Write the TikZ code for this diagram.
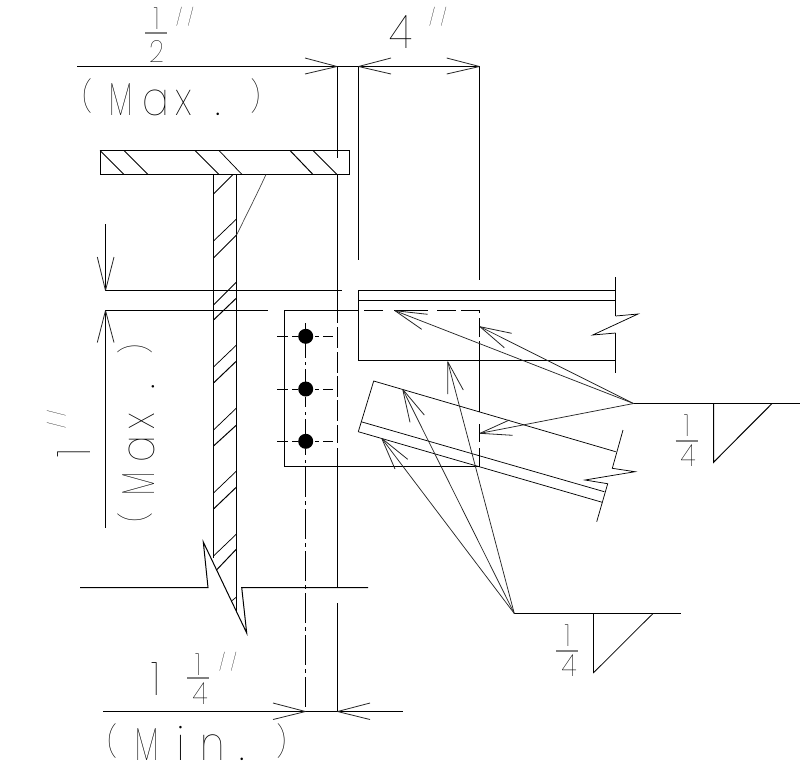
\documentclass[tikz,border=0pt]{standalone}
\usepackage{fontspec}
\newfontfamily\numf{Poppins Thin}
\newfontfamily\primef{Poppins Thin}[LetterSpace=30]
% one letter of a spaced label: slot width in px, horizontal scale, letter
\newcommand{\slot}[3]{\makebox[\dimexpr #1pt*3/4\relax][l]{\scalebox{#2}[1]{\fontsize{35pt}{35pt}\numf #3}}}
\newcommand{\paren}[2]{\makebox[\dimexpr #1pt*3/4\relax][l]{\raisebox{5.5pt}{\fontsize{23pt}{23pt}\numf #2}}}
\newcommand{\smallnum}[1]{\scalebox{.85}[1]{\fontsize{23pt}{23pt}\numf #1}}
\newcommand{\bignum}[1]{\scalebox{.85}[1]{\fontsize{35pt}{35pt}\numf #1}}
\newcommand{\primes}{\fontsize{13pt}{13pt}\primef //}
\newcommand{\maxlabel}{\paren{27}{(}\slot{33}{.62}{M}\slot{33}{.85}{a}\slot{40}{.85}{x}\slot{35}{1}{.}\paren{8}{)}}
\newcommand{\minlabel}{\paren{28}{(}\slot{41}{.62}{M}\slot{24}{1}{i}\slot{39}{.85}{n}\slot{37}{1}{.}\paren{8}{)}}
\tikzset{
  main/.style={black,line width=.75pt},
  thin line/.style={black,line width=.55pt},
  lead/.style={black!85,line width=.55pt},
  hid/.style={black,line width=.75pt},
  barb/.style={black!85,line width=.6pt},
  bar/.style={black!50,line width=.8pt},
  lbl/.style={anchor=base,inner sep=0pt,outer sep=0pt,text=black},
  lblw/.style={anchor=base west,inner sep=0pt,outer sep=0pt,text=black},
  centre line/.style={black,line width=.75pt,dash pattern=on 22.5pt off 3pt on 3pt off 3pt}
}
\newcommand{\tipbarbs}[3]{\draw[barb] (#1) -- (#2) (#1) -- (#3);}
\begin{document}
\begin{tikzpicture}[x=.75pt,y=-.75pt]
\useasboundingbox (0,0) rectangle (809,769);
\fill[white] (0,0) rectangle (809,769);
% top dimensions
\draw[main] (77,66.5) -- (479.5,66.5);
\draw[main] (337.5,66.5) -- (337.5,158);
\draw[main] (358.5,66.5) -- (358.5,260);
\draw[main] (479.5,66.5) -- (479.5,280);
\tipbarbs{337,66.5}{305,58}{305,74}
\tipbarbs{358.5,66.5}{391,58}{391,74}
\tipbarbs{479.5,66.5}{446.7,58}{446.7,74}
% flange
\draw[main] (100.5,150.5) rectangle (349.5,174.5);
\foreach \a/\b in {100/124,195/219,290/313}{\draw[main] (\a,150.5) -- (\b,174.5);}
\foreach \a/\b in {124/148,219/242,313/337}{\draw[thin line] (\a,150.5) -- (\b,174.5);}
% web
\draw[main] (213.5,174.5) -- (213.5,558);
\draw[main] (236.5,174.5) -- (236.5,612);
\draw[thin line] (213.5,194) -- (233,174.5);
\foreach \a/\b in {241/219,305/282,367/345,430/408,493/471,556/534}{\draw[thin line] (213.5,\a) -- (236.5,\b);}
\foreach \a/\b in {258/235,320/298,383/361,446/425,509/487}{\draw[main] (213.5,\a) -- (236.5,\b);}
\draw[main] (216.5,570) -- (236.5,549);
\draw[thin line] (231.5,601) -- (236.5,597);
\draw[black!75,line width=.5pt] (266,174.5) .. controls (256,196) and (246,216) .. (236.5,235);
% web break and lower line
\draw[main] (80,587.5) -- (208,587.5) -- (203.3,542) -- (246.7,633) -- (241.7,587.5) -- (368,587.5);
% left dimension
\draw[main] (105.5,224) -- (105.5,290.5) -- (342,290.5);
\draw[main] (105.5,527.5) -- (105.5,310.5) -- (267.7,310.5);
\tipbarbs{105.5,290.5}{97.3,257}{114,257}
\tipbarbs{105.5,310.5}{97.3,342.5}{114,342.5}
% plate
\draw[main] (358.5,310.5) -- (284.5,310.5) -- (284.5,466.5) -- (479.5,466.5) -- (479.5,448);
\draw[hid] (479.5,442) -- (479.5,424) (479.5,412) -- (479.5,341) (479.5,337) -- (479.5,318) (479.5,313) -- (479.5,310.5) -- (461,310.5);
\draw[hid] (455.5,310.5) -- (437,310.5) (428,310.5) -- (394,310.5) (383,310.5) -- (364,310.5);
% second vertical (hidden behind plate)
\draw[hid] (337.5,175) -- (337.5,323) (337.5,327) -- (337.5,348) (337.5,352) -- (337.5,373) (337.5,376) -- (337.5,397) (337.5,400) -- (337.5,421) (337.5,425) -- (337.5,443) (337.5,448) -- (337.5,587);
\draw[main] (337.5,603) -- (337.5,711.5);
% bolts
\foreach \y/\c in {336.5/336.3,389.5/389,441.5/441.3}{
  \fill[black] (305.7,\c) circle[radius=7.5];
  \draw[hid] (277,\y) -- (288,\y) (292,\y) -- (298,\y) (315,\y) -- (319,\y) (323,\y) -- (333,\y);
}
\draw[hid] (305.5,323) -- (305.5,330) (305.5,343) -- (305.5,358) (305.5,362) -- (305.5,365) (305.5,369) -- (305.5,382)
  (305.5,397) -- (305.5,407) (305.5,412) -- (305.5,415) (305.5,419) -- (305.5,434)
  (305.5,449) -- (305.5,455) (305.5,460) -- (305.5,463);
\draw[centre line] (305.5,467) -- (305.5,711.5);
% bottom dimension
\draw[main] (103,711.5) -- (403,711.5);
\tipbarbs{305.5,711.5}{273,703}{273,719.5}
\tipbarbs{337.5,711.5}{370,703}{370,719.5}
% top beam
\draw[main] (615.5,290.5) -- (358.5,290.5) -- (358.5,360.5) -- (615.5,360.5);
\draw[main] (358.5,300.5) -- (615.5,300.5);
\draw[main] (615.5,277) -- (615.5,316);
\draw[thin line] (615.5,316) -- (638,314) -- (592.7,335) -- (615.5,333);
\draw[main] (615.5,333) -- (615.5,372.5);
% angled member
\draw[thin line] (358.3,431.7) -- (373.7,381) -- (615.7,451.7);
\draw[thin line] (361,421.7) -- (604.3,491.7);
\draw[thin line] (358.3,431.7) -- (602.3,502.3);
\draw[thin line] (623,430) -- (612.3,468.3) -- (635,471.7) -- (585,480) -- (607.7,483.7) -- (596.7,521.7);
% weld symbols
\coordinate (weldA) at (633.5,403.5);
\coordinate (weldB) at (514.3,613.5);
\draw[main] (weldA) -- (800,403.5);
\draw[main] (713.5,403.5) -- (713.5,462.3) -- (772,403.5);
\draw[main] (weldB) -- (681,613.5);
\draw[thin line] (593.5,613.5) -- (593.5,672.7) -- (653,613.5);
% leaders
\coordinate (t1) at (395,310.7);
\coordinate (t2) at (480,326.7);
\coordinate (t3) at (480,433.3);
\coordinate (t4) at (447.7,361.7);
\coordinate (t5) at (402.7,389.3);
\coordinate (t6) at (381.7,438.3);
\foreach \t in {t1,t2,t3}{\draw[lead] (weldA) -- (\t);}
\foreach \t in {t4,t5,t6}{\draw[lead] (weldB) -- (\t);}
\tipbarbs{t1}{427.7,314.3}{421.7,329.3}
\tipbarbs{t2}{511.7,333.3}{504.3,347.7}
\tipbarbs{t3}{509.3,420}{512.7,435.3}
\tipbarbs{t4}{447.7,394}{463.3,390}
\tipbarbs{t5}{410,422.3}{424.3,415}
\tipbarbs{t6}{395,469}{407.7,459.3}
% fraction bars
\draw[bar] (145,33) -- (167,33);
\draw[bar] (187,678) -- (209,678);
\draw[bar] (675.7,441) -- (697.7,441);
\draw[bar] (556,651) -- (578,651);
% text
\node[lbl] (half1) at (156.5,29) {\smallnum{1}};
\node[lbl] (half2) at (156.5,62) {\smallnum{2}};
\node[lbl] (halfp) at (185,23.5) {\primes};
\node[lblw] (maxtop) at (82,115) {\maxlabel};
\node[lbl] (four) at (401,48) {\bignum{4}};
\node[lbl] (fourp) at (438,23.5) {\primes};
\node[lbl] (onebig) at (156,695) {\bignum{1}};
\node[lbl] (frac1) at (198,675) {\smallnum{1}};
\node[lbl] (frac4) at (200,704) {\smallnum{4}};
\node[lbl] (minp) at (228,668.5) {\primes};
\node[lblw] (mintxt) at (107,760) {\minlabel};
\node[lbl] (wa1) at (686.7,436) {\smallnum{1}};
\node[lbl] (wa4) at (688,466) {\smallnum{4}};
\node[lbl] (wb1) at (567.5,646) {\smallnum{1}};
\node[lbl] (wb4) at (569,676) {\smallnum{4}};
\node[lbl,rotate=90] (sideone) at (90,453) {\bignum{1}};
\node[lbl,rotate=90] (sidep) at (63,419.5) {\primes};
\node[lblw,rotate=90] (sidemax) at (154,522) {\maxlabel};
\end{tikzpicture}
\end{document}
